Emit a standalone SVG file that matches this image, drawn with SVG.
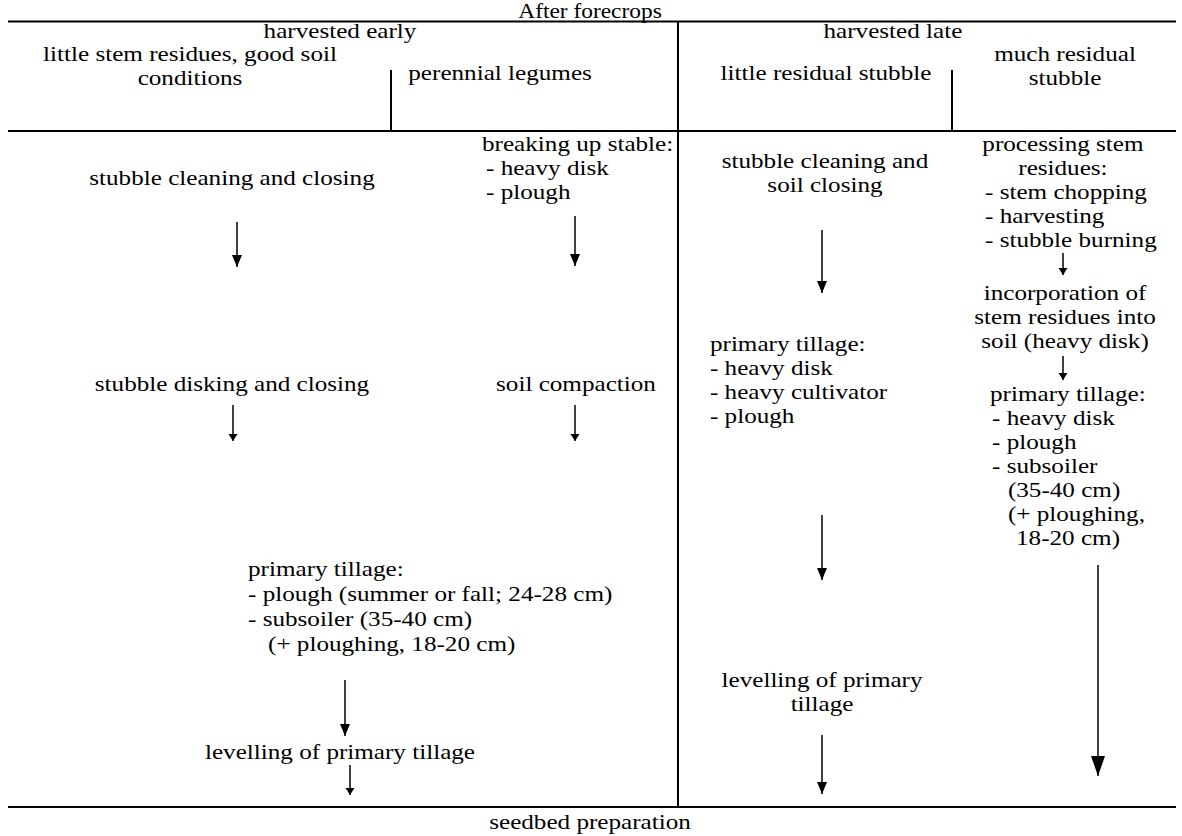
<svg xmlns="http://www.w3.org/2000/svg" width="1182" height="836" viewBox="0 0 1182 836">
<defs>
<style>
text{font-family:"Liberation Serif","Times New Roman",serif;font-size:21.5px;fill:#000}
.c{text-anchor:middle}
.rule{stroke:#000;stroke-width:2;fill:none}
.arr{stroke:#000;stroke-width:1.5;fill:none}
</style>
<marker id="hd" markerUnits="userSpaceOnUse" markerWidth="12" markerHeight="12" refX="12" refY="6" orient="auto" viewBox="0 0 12 12">
<path d="M0,1 L12,6 L0,11 Z" fill="#000"/>
</marker>
<marker id="hb" markerUnits="userSpaceOnUse" markerWidth="20" markerHeight="16" refX="20" refY="8" orient="auto" viewBox="0 0 20 16">
<path d="M0,1 L20,8 L0,15 Z" fill="#000"/>
</marker>
<marker id="hs" markerUnits="userSpaceOnUse" markerWidth="7" markerHeight="10" refX="7" refY="5" orient="auto" viewBox="0 0 7 10">
<path d="M0,0.5 L7,5 L0,9.5 Z" fill="#000"/>
</marker>
</defs>

<g id="table">
<line class="rule" x1="8" y1="21.5" x2="1176" y2="21.5"/>
<line class="rule" x1="8" y1="131" x2="1176" y2="131"/>
<line class="rule" x1="8" y1="807" x2="1176" y2="807"/>
<line class="rule" x1="678" y1="21.5" x2="678" y2="807"/>
<line class="rule" x1="391" y1="70" x2="391" y2="131"/>
<line class="rule" x1="952" y1="70" x2="952" y2="131"/>
</g>

<g id="headers" transform="scale(1.17 1)">
<text class="c" x="504.3" y="18" style="font-size:20px">After forecrops</text>
<text class="c" x="290.6" y="38">harvested early</text>
<text class="c" x="763.2" y="38">harvested late</text>
<text class="c" x="162.4" y="61">little stem residues, good soil</text>
<text class="c" x="162.4" y="85">conditions</text>
<text class="c" x="427.4" y="80">perennial legumes</text>
<text class="c" x="706" y="80">little residual stubble</text>
<text class="c" x="910.3" y="61">much residual</text>
<text class="c" x="910.3" y="85">stubble</text>
<text class="c" x="504.3" y="829">seedbed preparation</text>
</g>

<g id="n-stubble-cleaning" transform="scale(1.17 1)"><text class="c" x="198.3" y="185">stubble cleaning and closing</text></g>
<g id="n-breaking" transform="scale(1.17 1)"><text x="412" y="151">breaking up stable:</text><text x="415.4" y="175">- heavy disk</text><text x="415.4" y="199">- plough</text></g>
<g id="n-stubble-disking" transform="scale(1.17 1)"><text class="c" x="198.3" y="391">stubble disking and closing</text></g>
<g id="n-soil-compaction" transform="scale(1.17 1)"><text class="c" x="492.3" y="391">soil compaction</text></g>
<g id="n-primary-left" transform="scale(1.17 1)"><text x="212" y="576">primary tillage:</text><text x="212" y="601">- plough (summer or fall; 24-28 cm)</text><text x="212" y="626">- subsoiler (35-40 cm)</text><text x="229.1" y="651">(+ ploughing, 18-20 cm)</text></g>
<g id="n-levelling-left" transform="scale(1.17 1)"><text class="c" x="290.6" y="759">levelling of primary tillage</text></g>

<g id="n-cleaning-late" transform="scale(1.17 1)"><text class="c" x="705.1" y="168">stubble cleaning and</text><text class="c" x="705.1" y="192">soil closing</text></g>
<g id="n-primary-late" transform="scale(1.17 1)"><text x="606.8" y="351">primary tillage:</text><text x="606.8" y="375">- heavy disk</text><text x="606.8" y="399">- heavy cultivator</text><text x="606.8" y="423">- plough</text></g>
<g id="n-levelling-late" transform="scale(1.17 1)"><text class="c" x="702.6" y="687">levelling of primary</text><text class="c" x="702.6" y="711">tillage</text></g>

<g id="n-processing" transform="scale(1.17 1)"><text class="c" x="908.5" y="151">processing stem</text><text class="c" x="908.5" y="175">residues:</text><text x="841.9" y="199">- stem chopping</text><text x="841.9" y="223">- harvesting</text><text x="841.9" y="247">- stubble burning</text></g>
<g id="n-incorporation" transform="scale(1.17 1)"><text class="c" x="910.3" y="300">incorporation of</text><text class="c" x="910.3" y="324">stem residues into</text><text class="c" x="910.3" y="348">soil (heavy disk)</text></g>
<g id="n-primary-much" transform="scale(1.17 1)"><text x="846.2" y="401">primary tillage:</text><text x="847.9" y="425">- heavy disk</text><text x="847.9" y="449">- plough</text><text x="847.9" y="473">- subsoiler</text><text x="861.5" y="497">(35-40 cm)</text><text x="861.5" y="521">(+ ploughing,</text><text x="868.4" y="545">18-20 cm)</text></g>

<g id="connectors">
<line class="arr" x1="237" y1="222" x2="237" y2="267" marker-end="url(#hd)"/>
<line class="arr" x1="575" y1="216" x2="575" y2="266" marker-end="url(#hd)"/>
<line class="arr" x1="233" y1="405" x2="233" y2="441" marker-end="url(#hs)"/>
<line class="arr" x1="575" y1="405" x2="575" y2="441" marker-end="url(#hs)"/>
<line class="arr" x1="345" y1="680" x2="345" y2="736" marker-end="url(#hd)"/>
<line class="arr" x1="350" y1="765" x2="350" y2="795" marker-end="url(#hs)"/>
<line class="arr" x1="822" y1="230" x2="822" y2="293" marker-end="url(#hd)"/>
<line class="arr" x1="822" y1="515" x2="822" y2="580" marker-end="url(#hd)"/>
<line class="arr" x1="822" y1="735" x2="822" y2="794" marker-end="url(#hd)"/>
<line class="arr" x1="1063" y1="253" x2="1063" y2="275" marker-end="url(#hs)"/>
<line class="arr" x1="1063" y1="356" x2="1063" y2="380" marker-end="url(#hs)"/>
<line class="arr" x1="1098" y1="565" x2="1098" y2="776" marker-end="url(#hb)"/>
</g>
</svg>
